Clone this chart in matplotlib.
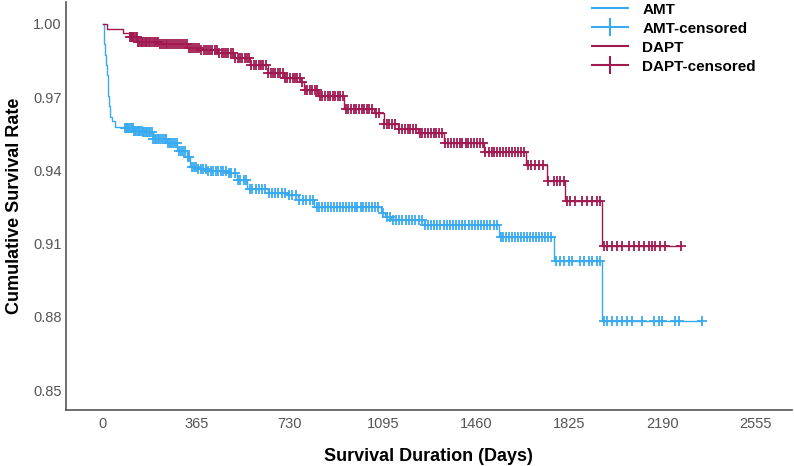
import matplotlib.pyplot as plt
from matplotlib.lines import Line2D
import numpy as np

plt.rcParams['font.family'] = ['Liberation Sans', 'DejaVu Sans']

# Kaplan-Meier step curves (day, cumulative survival)
amt_days = [0, 3, 6, 9, 12, 15, 18, 21, 24, 27, 35, 47, 86, 118, 157, 196, 251, 291,
            330, 342, 369, 409, 487, 526, 565, 644, 723, 762, 825, 1088, 1105, 1127, 1257,
            1548, 1767, 1952]
amt_surv = [1.0, 0.9958, 0.9916, 0.9873, 0.9831, 0.9789, 0.9747, 0.9705, 0.9662, 0.962,
            0.960, 0.9578, 0.9574, 0.956, 0.9555, 0.953, 0.951, 0.948, 0.9455, 0.9414,
            0.9405, 0.9397, 0.939, 0.936, 0.9324, 0.9307, 0.9299, 0.9279, 0.925, 0.9225,
            0.921, 0.9197, 0.9176, 0.9127, 0.903, 0.8783]
amt_censored = [86, 90, 94, 99, 103, 108, 112, 117, 121, 127, 131, 136, 142, 146, 151, 158,
                162, 167, 173, 179, 184, 191, 196, 203, 208, 215, 221, 228, 234, 241, 247,
                254, 262, 268, 275, 283, 289, 297, 306, 312, 321, 331, 337, 348, 355, 366,
                373, 384, 391, 402, 410, 421, 429, 441, 450, 462, 470, 483, 494, 503, 516,
                527, 537, 551, 561, 575, 585, 599, 609, 623, 634, 649, 660, 675, 686, 701,
                712, 727, 739, 755, 767, 783, 795, 811, 822, 836, 847, 858, 870, 881, 893,
                904, 916, 927, 939, 950, 962, 973, 985, 996, 1008, 1019, 1031, 1042, 1054,
                1065, 1077, 1095, 1110, 1122, 1135, 1148, 1160, 1172, 1185, 1198, 1210,
                1222, 1235, 1247, 1262, 1272, 1284, 1296, 1308, 1320, 1333, 1345, 1357,
                1369, 1382, 1394, 1406, 1418, 1431, 1443, 1455, 1467, 1480, 1492, 1504,
                1516, 1529, 1541, 1556, 1566, 1578, 1590, 1601, 1613, 1624, 1636, 1648,
                1659, 1671, 1683, 1694, 1706, 1718, 1729, 1741, 1752, 1772, 1787, 1803,
                1822, 1834, 1866, 1881, 1901, 1913, 1932, 1944, 1960, 1971, 1991, 2011,
                2030, 2050, 2070, 2109, 2156, 2175, 2187, 2239, 2254, 2345]

dapt_days = [0, 16, 79, 106, 134, 224, 330, 381, 448, 511, 577, 644, 707, 774, 786, 840,
             943, 1060, 1100, 1155, 1233, 1335, 1493, 1657, 1736, 1807, 1952]
dapt_surv = [1.0, 0.998, 0.9963, 0.9947, 0.9926, 0.9918, 0.990, 0.9893, 0.988, 0.986,
             0.983, 0.980, 0.978, 0.9762, 0.973, 0.9705, 0.965, 0.9635, 0.959, 0.957,
             0.9553, 0.9512, 0.9475, 0.942, 0.9357, 0.9274, 0.909]
dapt_censored = [106, 110, 114, 119, 123, 128, 132, 137, 141, 147, 152, 157, 163, 168, 174,
                 179, 186, 191, 198, 204, 211, 217, 224, 231, 238, 245, 252, 259, 267, 274,
                 282, 289, 297, 304, 312, 320, 328, 335, 343, 351, 360, 368, 377, 385, 394,
                 402, 411, 419, 428, 437, 446, 455, 464, 473, 482, 491, 500, 509, 518, 527,
                 536, 545, 554, 563, 572, 581, 590, 600, 609, 618, 628, 637, 647, 656, 665,
                 675, 684, 694, 703, 713, 722, 732, 742, 751, 761, 771, 780, 790, 800, 810,
                 819, 829, 839, 849, 859, 869, 879, 889, 899, 909, 919, 929, 940, 950, 960,
                 970, 981, 991, 1001, 1012, 1022, 1032, 1043, 1053, 1070, 1082, 1100, 1110,
                 1121, 1132, 1142, 1160, 1170, 1181, 1192, 1203, 1214, 1225, 1240, 1250,
                 1261, 1272, 1283, 1294, 1305, 1316, 1327, 1340, 1351, 1362, 1374, 1385,
                 1396, 1407, 1419, 1430, 1441, 1453, 1464, 1475, 1486, 1497, 1510, 1521,
                 1532, 1544, 1555, 1567, 1578, 1590, 1601, 1613, 1624, 1636, 1648, 1665,
                 1677, 1689, 1705, 1724, 1740, 1764, 1775, 1787, 1803, 1815, 1826, 1846,
                 1874, 1893, 1913, 1932, 1944, 1960, 1971, 1991, 2011, 2030, 2058, 2078,
                 2097, 2117, 2137, 2148, 2160, 2180, 2200, 2262]

x_ticks = [0, 365, 730, 1095, 1460, 1825, 2190, 2555]
y_ticks = [0.85, 0.88, 0.91, 0.94, 0.97, 1.00]

blue = '#3AAAF0'
red = '#A01A50'

fig = plt.figure(figsize=(7.94, 4.66), dpi=100)
ax = fig.add_axes([0.083, 0.12, 0.914, 0.876])


def draw_km(days, surv, cens, color):
    t = np.array(days + [max(cens)])
    s = np.array(surv + [surv[-1]])
    ax.step(t, s, where='post', color=color, lw=1)
    idx = np.searchsorted(days, cens, side='right') - 1
    ax.plot(cens, np.array(surv)[idx], '+', color=color, ms=6.5, mew=1.3)


draw_km(amt_days, amt_surv, amt_censored, blue)
draw_km(dapt_days, dapt_surv, dapt_censored, red)

ax.set_xlim(-145, 2695)
ax.set_ylim(0.8418, 1.009)
ax.set_xticks(x_ticks)
ax.set_xticklabels([str(v) for v in x_ticks])
ax.set_yticks(y_ticks)
ax.set_yticklabels([f'{v:.2f}' for v in y_ticks])
ax.tick_params(length=0, labelsize=10.5, labelcolor='#555555')
ax.tick_params(axis='x', pad=5)
ax.tick_params(axis='y', pad=3)

for side in ['top', 'right']:
    ax.spines[side].set_visible(False)
for side in ['left', 'bottom']:
    ax.spines[side].set_color('#555555')
    ax.spines[side].set_linewidth(1.2)

ax.set_xlabel('Survival Duration (Days)', fontsize=13, fontweight='bold', labelpad=12)
ax.set_ylabel('Cumulative Survival Rate', fontsize=13, fontweight='bold', labelpad=7)

handles = [
    Line2D([], [], color=blue, lw=1.5),
    Line2D([], [], color=blue, lw=1.5, marker='|', ms=13, mew=1.5),
    Line2D([], [], color=red, lw=1.5),
    Line2D([], [], color=red, lw=1.5, marker='|', ms=13, mew=1.5),
]
labels = ['AMT', 'AMT-censored', 'DAPT', 'DAPT-censored']
fig.legend(handles, labels, loc='upper left', bbox_to_anchor=(0.728, 1.024),
           frameon=False, prop={'weight': 'bold', 'size': 11}, handlelength=2.4,
           handletextpad=0.9, labelspacing=0.33, numpoints=1)

fig.savefig('out.png', dpi=100)
